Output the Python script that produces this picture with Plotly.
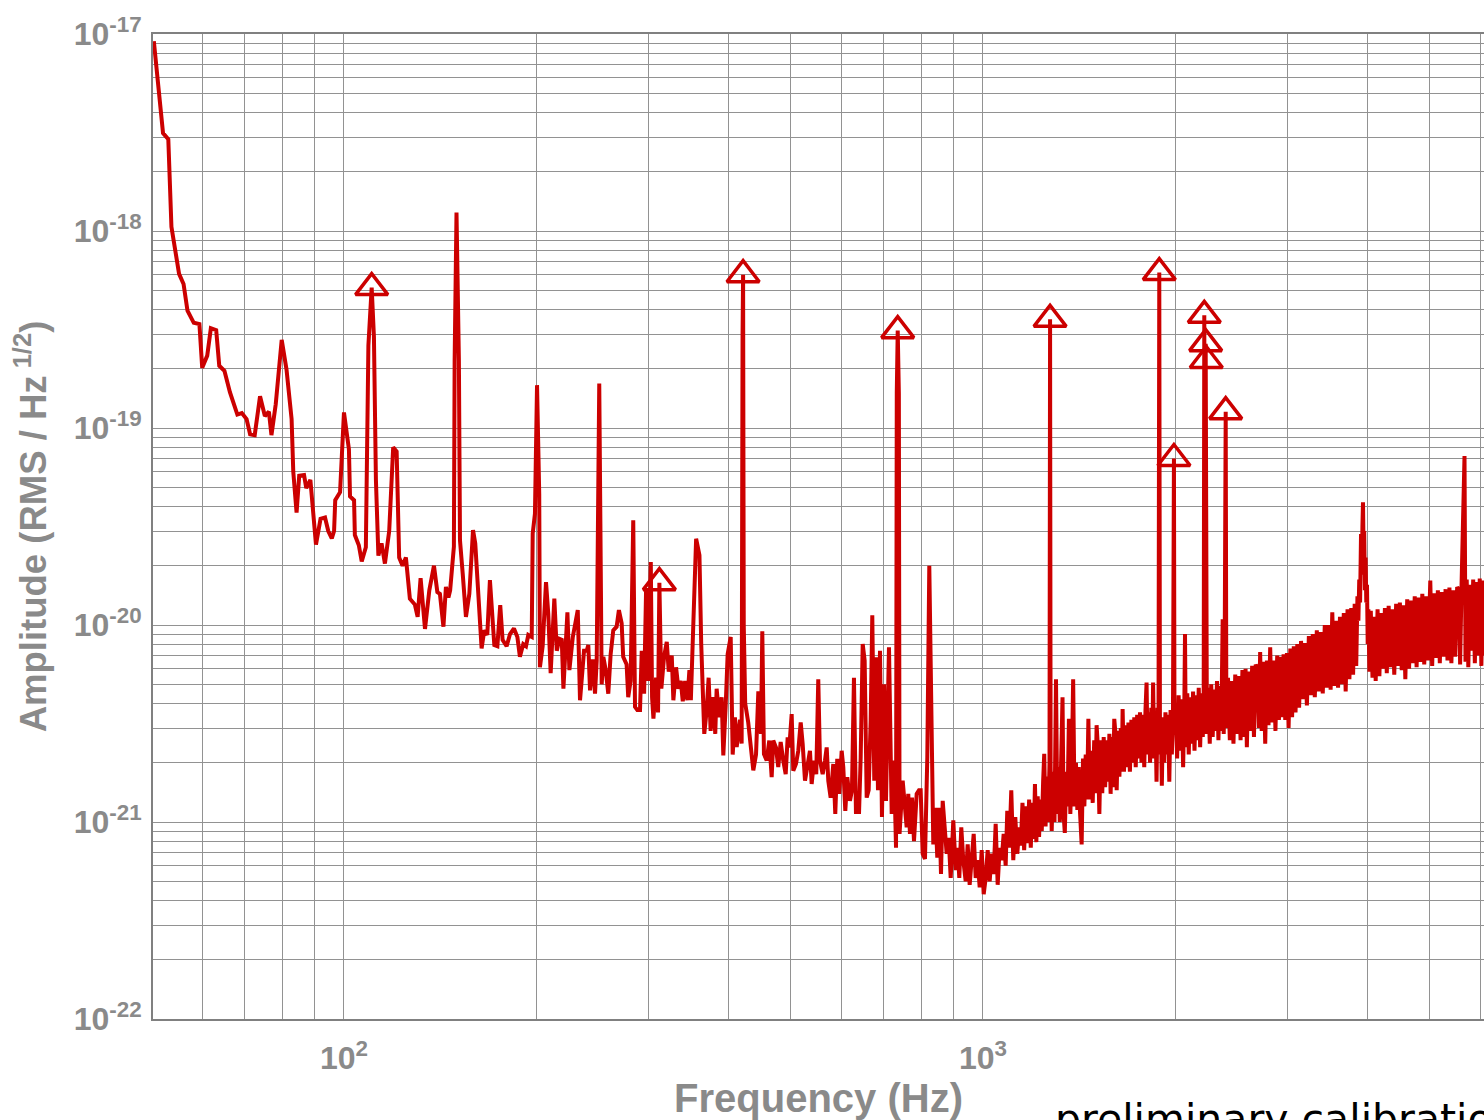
import numpy as np
import plotly.graph_objects as go

# ---- spectrum: (frequency Hz, amplitude RMS/Hz^1/2) ----
SEG_LOW = [
    (50.4, 9.2e-18), (52.1, 3.14e-18), (53.1, 2.92e-18), (53.7, 1.05e-18), (55.2, 6.06e-19),
    (56.1, 5.38e-19), (56.9, 3.94e-19), (58.2, 3.42e-19), (59.4, 3.37e-19), (60.0, 2.02e-19),
    (61.1, 2.33e-19), (61.9, 3.21e-19), (63.1, 3.14e-19), (63.8, 2.07e-19), (65.0, 1.95e-19),
    (66.3, 1.52e-19), (68.1, 1.17e-19), (69.2, 1.19e-19), (70.4, 1.11e-19), (71.3, 9.3e-20),
    (72.5, 9.2e-20), (73.9, 1.45e-19), (75.2, 1.15e-19), (76.3, 1.21e-19), (77.0, 9.2e-20),
    (78.2, 1.32e-19), (79.9, 2.8e-19), (81.3, 1.98e-19), (82.8, 1.11e-19), (83.3, 6.0e-20),
    (84.3, 3.72e-20), (85.1, 5.72e-20), (86.6, 5.77e-20), (87.3, 4.95e-20), (88.6, 5.45e-20),
    (90.4, 2.56e-20), (91.9, 3.46e-20), (93.4, 3.51e-20), (94.5, 3.0e-20), (95.7, 2.75e-20),
    (96.5, 3.0e-20), (96.9, 4.3e-20), (98.6, 4.72e-20), (100.0, 1.2e-19), (101.8, 7.8e-20),
    (102.2, 4.5e-20), (103.7, 4.3e-20), (104.0, 2.86e-20), (105.5, 2.54e-20), (106.6, 2.1e-20),
    (108.2, 2.48e-20), (109.2, 2.63e-19), (110.5, 5.16e-19), (111.4, 2.9e-19), (112.2, 5.45e-20),
    (113.2, 2.25e-20), (114.5, 2.6e-20), (115.9, 2.05e-20), (117.7, 3.0e-20), (119.4, 7.98e-20),
    (120.9, 7.6e-20), (122.0, 2.2e-20), (123.5, 2.0e-20), (125.0, 2.2e-20), (126.8, 1.36e-20),
    (129.1, 1.27e-20), (130.4, 1.1e-20), (131.8, 1.73e-20), (133.9, 9.55e-21), (136.0, 1.5e-20),
    (138.3, 2.0e-20), (140.0, 1.47e-20),
]

SEG_MID = [
    (141.3, 1.44e-20), (143.1, 9.8e-21), (144.4, 1.56e-20), (145.7, 1.38e-20), (146.6, 1.5e-20),
    (147.7, 2.13e-20), (148.6, 2.5e-20), (149.0, 2.2e-19), (150.0, 1.24e-18), (151.3, 2.2e-19),
    (151.9, 2.69e-20), (153.4, 1.82e-20), (155.2, 1.1e-20), (157.1, 1.44e-20), (159.2, 3.03e-20),
    (160.5, 2.59e-20), (162.8, 1.14e-20), (164.2, 7.6e-21), (165.8, 9.4e-21), (167.6, 8.9e-21),
    (169.2, 1.69e-20), (170.9, 1.14e-20), (171.9, 7.9e-21), (173.8, 7.8e-21), (175.6, 1.26e-20),
    (177.1, 8.4e-21), (179.7, 7.8e-21), (181.9, 9.0e-21), (184.5, 9.6e-21), (186.8, 8.7e-21),
    (188.5, 6.9e-21), (190.8, 8.0e-21), (192.7, 7.8e-21), (194.3, 8.9e-21), (196.7, 8.7e-21),
    (197.4, 2.91e-20), (199.0, 3.67e-20), (200.5, 1.65e-19), (202.1, 4.64e-20), (202.6, 6.1e-21),
    (204.6, 7.8e-21), (207.1, 1.65e-20), (208.8, 1.14e-20), (210.6, 5.7e-21), (213.4, 1.36e-20),
    (215.3, 7.4e-21), (217.3, 8.5e-21), (219.2, 8.4e-21), (220.5, 4.75e-21), (223.7, 1.16e-20),
    (225.3, 5.9e-21), (228.1, 8.7e-21), (232.2, 1.19e-20), (234.1, 4.15e-21), (236.4, 5.9e-21),
    (237.5, 7.4e-21), (239.8, 7.4e-21), (241.2, 7.9e-21), (242.7, 4.66e-21), (245.1, 6.7e-21),
    (247.1, 4.48e-21), (248.6, 6.6e-21), (250.9, 1.68e-19), (253.1, 5.0e-21), (254.6, 6.9e-21),
    (256.8, 5.9e-21), (259.2, 4.48e-21), (261.4, 7.1e-21), (263.9, 9.4e-21), (267.1, 9.8e-21),
    (269.3, 1.19e-20), (272.0, 1.02e-20), (273.5, 6.9e-21), (276.9, 6.3e-21), (278.5, 4.3e-21),
    (280.9, 5.2e-21), (283.6, 3.4e-20), (285.4, 3.84e-21), (287.8, 3.7e-21), (290.6, 3.7e-21),
    (292.4, 7.4e-21), (294.9, 4.48e-21), (297.0, 1.5e-20), (299.2, 5.2e-21), (302.1, 2.09e-20),
    (303.5, 4.3e-21), (305.0, 3.35e-21), (307.9, 5.4e-21), (310.1, 3.6e-21), (311.6, 1.64e-20),
    (313.8, 4.75e-21), (316.9, 6.9e-21), (320.0, 8.2e-21), (322.3, 5.8e-21), (325.8, 7.0e-21),
    (327.7, 4.15e-21), (330.9, 6.1e-21), (333.7, 4.75e-21), (336.6, 5.2e-21), (339.0, 4.1e-21),
    (341.9, 5.2e-21), (344.7, 4.15e-21), (347.2, 5.9e-21), (349.0, 4.15e-21), (352.3, 1.06e-20),
    (355.7, 2.74e-20), (360.0, 2.26e-20), (362.3, 8.0e-21), (366.3, 2.8e-21), (369.5, 3.7e-21),
    (372.1, 5.4e-21), (374.8, 2.9e-21), (378.3, 4.3e-21), (381.1, 2.8e-21), (383.0, 4.75e-21),
    (386.6, 3.4e-21), (390.0, 4.3e-21), (392.3, 2.18e-21), (395.7, 3.9e-21), (398.5, 7.1e-21),
    (402.9, 8.7e-21), (405.8, 2.2e-21), (409.1, 3.4e-21), (411.7, 2.4e-21), (416.6, 3.3e-21),
    (419.1, 2.5e-21), (420.5, 3.0e-19), (421.3, 6.0e-19), (422.3, 1.0e-20), (424.5, 4.0e-21),
    (429.2, 3.2e-21), (433.0, 2.5e-21), (437.1, 1.83e-21), (441.4, 2.2e-21), (445.1, 4.6e-21),
]

SEG_BUCKET = [
    (449.3, 2.8e-21), (451.5, 9.3e-21), (454.2, 2.21e-21), (458.7, 2.05e-21), (463.0, 2.59e-21),
    (467.0, 1.69e-21), (469.7, 2.59e-21), (474.3, 2.39e-21), (478.2, 1.9e-21), (482.4, 2.55e-21),
    (486.9, 2.05e-21), (491.2, 1.75e-21), (494.7, 2.69e-21), (497.6, 2.39e-21), (501.9, 3.53e-21),
    (504.8, 1.82e-21), (509.7, 1.97e-21), (514.0, 2.3e-21), (518.5, 3.2e-21), (522.2, 2.49e-21),
    (526.6, 1.62e-21), (531.7, 2.05e-21), (536.1, 2.3e-21), (539.4, 1.56e-21), (543.9, 2.05e-21),
    (548.4, 1.75e-21), (552.4, 5.3e-21), (555.8, 2.05e-21), (561.2, 1.75e-21), (565.9, 2.05e-21),
    (569.4, 2.39e-21), (572.7, 1.62e-21), (577.6, 1.33e-21), (583.1, 1.97e-21), (587.3, 1.1e-21),
    (591.5, 2.09e-21), (595.8, 1.39e-21), (601.0, 2.3e-21), (604.5, 1.9e-21), (608.9, 1.14e-21),
    (613.3, 1.69e-21), (619.2, 1.28e-21), (623.7, 1.45e-21), (628.2, 5.4e-21), (632.8, 1.1e-21),
    (636.7, 1.39e-21), (639.7, 1.1e-21), (643.6, 2.12e-21), (648.3, 8.0e-21), (652.9, 6.6e-21),
    (657.7, 1.33e-21), (662.4, 1.45e-21), (667.2, 3.26e-21), (671.1, 1.12e-20), (675.9, 1.62e-21),
    (680.1, 6.86e-21), (685.0, 1.45e-21), (690.0, 7.4e-21), (694.9, 1.06e-21), (700.0, 5.0e-21),
    (705.0, 1.28e-21), (712.7, 7.7e-21), (719.7, 1.1e-21), (725.6, 2.05e-21), (731.0, 7.4e-22),
    (733.0, 1.5e-19), (735.5, 3.12e-19), (738.5, 1.5e-19), (740.4, 8.7e-22), (748.8, 1.62e-21),
    (753.1, 1.23e-21), (759.6, 9.4e-22), (764.0, 1.39e-21), (768.7, 8.7e-22), (774.3, 1.33e-21),
    (779.9, 8.0e-22), (787.5, 1.39e-21), (794.1, 1.45e-21), (798.9, 1.45e-21), (804.7, 6.9e-22),
    (811.4, 6.5e-22), (818.2, 2.12e-21), (824.1, 2.0e-20), (831.2, 2.8e-21), (836.1, 7.7e-22),
    (842.1, 1.18e-21), (848.2, 6.6e-22), (854.3, 1.18e-21), (859.6, 5.45e-22), (864.9, 1.28e-21),
    (871.1, 9.4e-22), (877.4, 6.9e-22), (883.8, 8.3e-22), (890.2, 5.2e-22), (898.6, 1.02e-21),
    (906.4, 5.7e-22), (912.9, 7.4e-22), (918.2, 5.2e-22), (924.8, 9.4e-22), (931.5, 6.4e-22),
    (939.6, 5.0e-22), (946.4, 7.7e-22), (953.2, 4.8e-22), (960.2, 6.9e-22), (967.1, 8.7e-22),
    (974.1, 5.2e-22), (981.1, 6.4e-22), (988.2, 4.66e-22), (995.4, 7.2e-22), (1002.6, 4.3e-22),
    (1009.8, 5.2e-22), (1017.1, 7.2e-22), (1024.4, 5.0e-22), (1031.8, 6.9e-22), (1039.3, 5.45e-22),
    (1046.8, 9.8e-22), (1054.4, 4.8e-22), (1062.0, 7.4e-22), (1069.7, 6.4e-22), (1077.4, 8.7e-22),
    (1085.2, 6.0e-22), (1091.5, 1.14e-21), (1099.4, 7.4e-22), (1107.4, 1.45e-21), (1115.4, 6.4e-22),
    (1123.5, 1.06e-21), (1131.6, 6.9e-22), (1139.8, 9.4e-22),
]

SEG_RISE = [
    (1146, 7.6e-22), (1153, 1.25e-21), (1160, 7.2e-22), (1167, 1.2e-21), (1174, 7.8e-22),
    (1181, 1.3e-21), (1188, 7.4e-22), (1195, 1.25e-21), (1201, 8.2e-22), (1206, 1.56e-21),
    (1212, 7.9e-22), (1218, 1.35e-21), (1224, 8.4e-22), (1230, 1.3e-21), (1236, 9.0e-22),
    (1242, 1.6e-21), (1247, 2.22e-21), (1253, 9.5e-22), (1259, 1.7e-21), (1265, 1.0e-21),
    (1271, 2.0e-21), (1273.5, 3.56e-19), (1276, 1.9e-21), (1281, 9.0e-22), (1288, 1.8e-21),
    (1294, 1.0e-21), (1301, 5.3e-21), (1307, 1.1e-21), (1313, 1.9e-21), (1319, 1.0e-21),
    (1325, 1.8e-21), (1332, 4.3e-21), (1337, 1.1e-21), (1343, 8.8e-22), (1350, 1.8e-21),
    (1356, 1.2e-21), (1363, 3.34e-21), (1370, 1.1e-21), (1377, 1.9e-21), (1384, 5.3e-21),
    (1391, 1.2e-21), (1398, 2.0e-21), (1405, 1.15e-21), (1412, 1.9e-21), (1419, 1.1e-21),
    (1427, 7.7e-22), (1434, 2.1e-21), (1441, 1.2e-21), (1448, 2.2e-21), (1455, 1.3e-21),
    (1462, 3.34e-21), (1469, 1.3e-21), (1477, 2.3e-21), (1485, 1.25e-21), (1493, 2.6e-21),
    (1500, 1.4e-21), (1506, 3.1e-21), (1513, 2.4e-21), (1521, 1.1e-21), (1529, 2.6e-21),
    (1537, 1.4e-21), (1545, 2.7e-21), (1553, 1.5e-21), (1561, 2.6e-21), (1569, 1.6e-21),
    (1577, 2.8e-21), (1584, 1.39e-21), (1592, 2.7e-21), (1598, 1.5e-21), (1605, 3.34e-21),
    (1612, 2.8e-21), (1619, 1.45e-21), (1627, 2.9e-21), (1635, 1.7e-21), (1643, 3.0e-21),
    (1649, 1.8e-21), (1654, 3.75e-21), (1662, 1.8e-21), (1671, 3.1e-21), (1680, 1.9e-21),
    (1689, 3.2e-21), (1698, 1.8e-21), (1707, 3.3e-21), (1716, 2.0e-21), (1725, 3.4e-21),
    (1734, 1.9e-21), (1743, 3.5e-21), (1752, 2.1e-21), (1761, 3.6e-21), (1770, 2.0e-21),
    (1779, 3.5e-21), (1788, 1.9e-21), (1796, 3.7e-21), (1803, 5.1e-21), (1810, 2.2e-21),
    (1818, 3.6e-21), (1826, 2.0e-21), (1834, 3.8e-21), (1840, 2.1e-21), (1846, 5.1e-21),
    (1853, 2.2e-21), (1861, 3.6e-21), (1869, 1.6e-21), (1876, 3.8e-21), (1882, 2.2e-21),
    (1887.6, 6.15e-19), (1892, 3.0e-21), (1898, 3.3e-21), (1905, 1.53e-21), (1913, 3.4e-21),
    (1921, 2.0e-21), (1930, 3.6e-21), (1939, 2.2e-21), (1948, 3.5e-21), (1957, 1.6e-21),
    (1966, 3.7e-21), (1975, 2.2e-21), (1983, 3.4e-21), (1990, 7.0e-20), (1994, 2.8e-21),
    (2002, 4.0e-21), (2013, 2.1e-21), (2024, 4.4e-21), (2035, 2.3e-21), (2046, 4.2e-21),
    (2057, 1.9e-21), (2066, 4.0e-21), (2071, 9.0e-21), (2077, 2.4e-21), (2088, 4.5e-21),
    (2099, 2.2e-21), (2110, 4.3e-21), (2121, 2.5e-21), (2132, 4.6e-21), (2143, 2.3e-21),
    (2154, 4.4e-21), (2165, 2.6e-21), (2176, 4.8e-21), (2187, 2.4e-21), (2198, 4.5e-21),
    (2208, 2.7e-21), (2215, 4.0e-21), (2220, 3.73e-19), (2225, 3.5e-21), (2231, 2.68e-19),
    (2233.5, 4.0e-21), (2236, 2.2e-19), (2241, 2.8e-21), (2252, 4.8e-21), (2264, 2.5e-21),
    (2276, 5.0e-21), (2288, 2.7e-21), (2300, 4.7e-21), (2312, 2.9e-21), (2324, 5.2e-21),
    (2336, 2.6e-21), (2348, 4.9e-21), (2360, 2.9e-21), (2372, 1.07e-20), (2381, 2.8e-21),
    (2388, 5.0e-21), (2398, 1.21e-19), (2404, 3.0e-21),
]

SEG_HIGH = [
    (2418, 5.4e-21), (2434, 2.6e-21), (2450, 5.2e-21), (2466, 2.5e-21), (2482, 5.6e-21),
    (2498, 2.8e-21), (2514, 5.5e-21), (2530, 2.6e-21), (2547, 5.9e-21), (2564, 2.7e-21),
    (2576, 6.0e-21), (2588, 2.4e-21), (2604, 5.8e-21), (2621, 2.9e-21), (2638, 6.2e-21),
    (2655, 2.7e-21), (2672, 6.3e-21), (2690, 6.0e-21), (2703, 3.0e-21), (2715, 7.3e-21),
    (2730, 2.9e-21), (2747, 6.5e-21), (2765, 2.5e-21), (2782, 6.6e-21), (2798, 3.1e-21),
    (2815, 7.7e-21), (2833, 3.2e-21), (2851, 6.6e-21), (2869, 2.9e-21), (2887, 7.0e-21),
    (2905, 3.3e-21), (2923, 6.9e-21), (2940, 3.4e-21), (2954, 7.1e-21), (2972, 3.3e-21),
    (2990, 7.2e-21), (3008, 3.0e-21), (3027, 7.6e-21), (3046, 3.4e-21), (3065, 7.8e-21),
    (3084, 3.6e-21), (3104, 8.0e-21), (3124, 3.8e-21), (3146, 8.3e-21), (3168, 4.2e-21),
    (3190, 8.1e-21), (3213, 3.9e-21), (3236, 8.8e-21), (3259, 4.4e-21), (3282, 9.0e-21),
    (3306, 4.3e-21), (3330, 9.4e-21), (3354, 4.6e-21), (3378, 9.2e-21), (3402, 4.5e-21),
    (3427, 1.0e-20), (3452, 4.8e-21), (3477, 1.0e-20), (3500, 4.7e-21), (3521, 1.16e-20),
    (3545, 4.9e-21), (3570, 1.05e-20), (3595, 4.8e-21), (3620, 1.1e-20), (3645, 5.0e-21),
    (3670, 1.15e-20), (3695, 4.6e-21), (3720, 1.2e-20), (3745, 5.3e-21), (3770, 1.22e-20),
    (3795, 5.6e-21), (3817, 1.28e-20), (3838, 6.2e-21), (3855, 1.4e-20), (3868, 1.05e-20),
    (3880, 1.7e-20), (3892, 1.3e-20), (3905, 2.9e-20), (3917, 1.8e-20), (3925, 3.2e-20),
    (3933, 4.2e-20), (3941, 2.4e-20), (3950, 3.0e-20), (3960, 1.5e-20), (3970, 2.2e-20),
    (3980, 1.3e-20), (3990, 1.6e-20), (4000, 8.0e-21), (4010, 1.2e-20), (4025, 5.8e-21),
    (4045, 1.18e-20), (4070, 5.4e-21), (4097, 1.1e-20), (4117, 5.2e-21), (4145, 1.2e-20),
    (4172, 5.5e-21), (4200, 1.15e-20), (4228, 6.0e-21), (4256, 1.22e-20), (4285, 5.7e-21),
    (4314, 1.25e-20), (4343, 6.1e-21), (4372, 1.2e-20), (4402, 5.6e-21), (4432, 1.28e-20),
    (4462, 6.2e-21), (4492, 1.3e-20), (4522, 5.9e-21), (4552, 1.26e-20), (4581, 5.3e-21),
    (4612, 1.35e-20), (4643, 6.0e-21), (4675, 1.33e-20), (4707, 6.4e-21), (4739, 1.4e-20),
    (4771, 6.1e-21), (4804, 1.38e-20), (4837, 6.5e-21), (4870, 1.44e-20), (4904, 6.3e-21),
    (4938, 1.4e-20), (4972, 6.6e-21), (5012, 1.68e-20), (5046, 6.2e-21), (5081, 1.45e-20),
    (5116, 6.8e-21), (5151, 1.5e-20), (5187, 6.4e-21), (5223, 1.47e-20), (5259, 6.9e-21),
    (5296, 1.52e-20), (5333, 6.6e-21), (5370, 1.55e-20), (5408, 6.4e-21), (5446, 1.5e-20),
    (5484, 6.9e-21), (5522, 1.56e-20), (5560, 1.5e-20), (5581, 6.3e-21), (5610, 1.6e-20),
    (5640, 3.5e-20), (5670, 7.2e-20), (5690, 6.5e-21), (5715, 1.7e-20), (5748, 6.1e-21),
    (5782, 1.6e-20), (5816, 7.4e-21), (5850, 1.7e-20), (5885, 6.4e-21), (5920, 1.65e-20),
    (5955, 7.0e-21), (5990, 1.72e-20), (6025, 6.2e-21), (6060, 1.68e-20), (6095, 7.0e-21),
    (6130, 1.6e-20),
]

# off-scale lines marked with open triangles
MARK_F = [110.5, 311.6, 421.3, 735.5, 1273.5, 1887.6, 1990, 2220, 2231, 2236, 2398]
MARK_A = [5.16e-19, 1.64e-20, 6.0e-19, 3.12e-19, 3.56e-19, 6.15e-19, 7.0e-20,
          3.73e-19, 2.68e-19, 2.2e-19, 1.21e-19]

# axis ticks
X_TICKS = [60, 70, 80, 90, 100, 200, 300, 400, 500, 600, 700, 800, 900,
           1000, 2000, 3000, 4000, 5000, 6000]
X_LABELED = {100: "<b>10<sup>2</sup></b>", 1000: "<b>10<sup>3</sup></b>"}
Y_DECADES = [-22, -21, -20, -19, -18, -17]

pairs = SEG_LOW + SEG_MID + SEG_BUCKET + SEG_RISE + SEG_HIGH
freq = [p[0] for p in pairs]
amp = [p[1] for p in pairs]

y_tickvals, y_ticktext = [], []
for e in Y_DECADES:
    for m in range(1, 10):
        if e == -17 and m > 1:
            break
        y_tickvals.append(m * 10.0 ** e)
        y_ticktext.append(f"<b>10<sup>{e}</sup></b>" if m == 1 else "")

x_ticktext = [X_LABELED.get(v, "") for v in X_TICKS]

RED = "#cc0000"
GREY = "#8a8a8a"
GRID = "#929292"

fig = go.Figure()
fig.add_trace(go.Scatter(x=freq, y=amp, mode="lines",
                         line=dict(color=RED, width=4), hoverinfo="skip"))
fig.add_trace(go.Scatter(x=MARK_F, y=MARK_A, mode="markers",
                         marker=dict(symbol="triangle-up-open", size=28, color=RED,
                                     line=dict(width=3.5, color=RED)),
                         hoverinfo="skip"))

fig.update_layout(
    width=1484, height=1120,
    margin=dict(l=153, r=0, t=34, b=101),
    paper_bgcolor="white", plot_bgcolor="white",
    showlegend=False,
    font=dict(family="Liberation Sans, Arial, sans-serif", color=GREY),
    annotations=[dict(text="preliminary calibration", xref="paper", yref="paper",
                      x=0.6762, y=-0.075, xanchor="left", yanchor="top",
                      showarrow=False,
                      font=dict(family="DejaVu Sans", size=41, color="black"))],
)
fig.update_xaxes(
    type="log", range=[np.log10(50.25), np.log10(50.25) + 1331 / 639],
    tickvals=X_TICKS, ticktext=x_ticktext, ticks="",
    tickfont=dict(size=32, color=GREY), ticklabelstandoff=10,
    showgrid=True, gridcolor=GRID, gridwidth=1,
    showline=True, linecolor="#808080", linewidth=2, mirror=True,
    zeroline=False,
    title=dict(text="<b>Frequency (Hz)</b>", font=dict(size=40, color=GREY), standoff=13),
)
fig.update_yaxes(
    type="log", range=[-22, -17],
    tickvals=y_tickvals, ticktext=y_ticktext, ticks="",
    tickfont=dict(size=32, color=GREY), ticklabelstandoff=3,
    showgrid=True, gridcolor=GRID, gridwidth=1,
    showline=True, linecolor="#808080", linewidth=2,
    zeroline=False,
    title=dict(text="<b>Amplitude (RMS / Hz<sup> 1/2</sup>)</b>",
               font=dict(size=36.5, color=GREY), standoff=16),
)

# place the figure at the page's top-left corner (no body margin, no scrollbars)
fig.write_html("out.html", config={"displayModeBar": False},
               post_script="document.body.style.margin='0';"
                           "document.body.style.overflow='hidden';")
